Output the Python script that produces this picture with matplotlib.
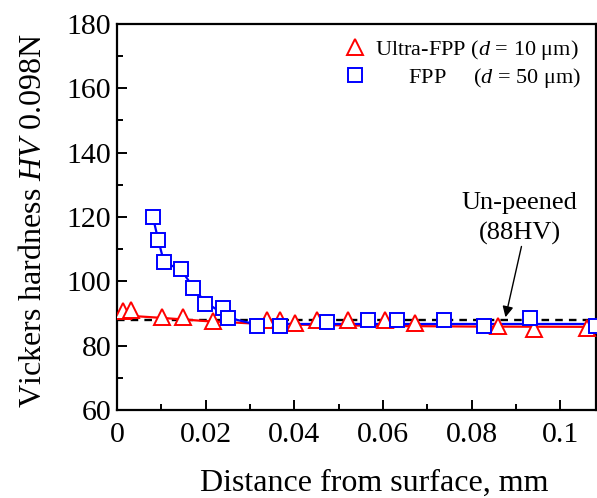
import numpy as np
import matplotlib
matplotlib.use("Agg")
import matplotlib.pyplot as plt
from matplotlib.ticker import MultipleLocator, FixedLocator, FixedFormatter

plt.rcParams['font.family'] = ['Liberation Serif', 'DejaVu Serif']
plt.rcParams['mathtext.fontset'] = 'custom'
plt.rcParams['mathtext.rm'] = 'Liberation Serif'
plt.rcParams['mathtext.it'] = 'Liberation Serif:italic'

# Ultra-FPP (d = 10 um) measured points
ufpp_x = [0.0014, 0.0032, 0.0102, 0.0149, 0.0217, 0.0339, 0.0368, 0.0402,
          0.0452, 0.0521, 0.0605, 0.0673, 0.0858, 0.0941, 0.1059]
ufpp_y = [90.6, 91.0, 89.0, 89.0, 87.6, 88.0, 88.0, 87.0,
          87.8, 87.8, 87.8, 87.1, 86.1, 85.2, 85.5]
# Ultra-FPP trend line
ufpp_fit_x = [0.0, 0.01, 0.02, 0.03, 0.04, 0.06, 0.08, 0.11]
ufpp_fit_y = [89.5, 88.6, 87.6, 86.9, 86.5, 86.1, 85.9, 85.8]

# FPP (d = 50 um) measured points
fpp_x = [0.0081, 0.0093, 0.0106, 0.0145, 0.0172, 0.0199, 0.0238, 0.0251,
         0.0315, 0.0368, 0.0473, 0.0566, 0.0631, 0.0737, 0.0827, 0.0932, 0.1079]
fpp_y = [119.9, 112.8, 105.9, 103.8, 97.8, 93.0, 91.6, 88.5,
         86.2, 86.2, 87.3, 87.8, 87.8, 87.8, 86.1, 88.5, 86.1]
# FPP trend line
fpp_fit_x = [0.0081, 0.0093, 0.0106, 0.0145, 0.0172, 0.0199, 0.0238, 0.027,
             0.030, 0.040, 0.11]
fpp_fit_y = [119.9, 112.8, 105.9, 103.5, 98.0, 93.5, 90.0, 88.0, 87.0, 86.7, 86.7]

# un-peened level
base_hv = 88

xticks = [0, 0.02, 0.04, 0.06, 0.08, 0.1]
xtick_labels = ["0", "0.02", "0.04", "0.06", "0.08", "0.1"]


def draw_graph():
    fig = plt.figure(figsize=(5.97, 4.98), dpi=100)
    ax = fig.add_axes([0.196, 0.177, 0.803, 0.775])

    ax.plot([0, 0.11], [base_hv, base_hv], color='black', lw=1.7,
            dashes=(3.2, 2.6), zorder=1)
    ax.plot(ufpp_fit_x, ufpp_fit_y, color='red', lw=1.6, zorder=2)
    ax.plot(fpp_fit_x, fpp_fit_y, color='blue', lw=1.6, zorder=2)
    ax.plot(ufpp_x, ufpp_y, ls='none', marker='^', ms=11, mew=1.4,
            mec='red', mfc='white', zorder=3,
            label="Ultra-FPP ($d$ = 10 μm)")
    ax.plot(fpp_x, fpp_y, ls='none', marker='s', ms=10, mew=1.4,
            mec='blue', mfc='white', zorder=4,
            label="      FPP     ($d$ = 50 μm)")

    ax.set_xlim(0, 0.1081)
    ax.set_ylim(60, 180)
    ax.xaxis.set_major_locator(FixedLocator(xticks))
    ax.xaxis.set_major_formatter(FixedFormatter(xtick_labels))
    ax.xaxis.set_minor_locator(MultipleLocator(0.01))
    ax.yaxis.set_major_locator(MultipleLocator(20))
    ax.yaxis.set_minor_locator(MultipleLocator(10))
    ax.tick_params(which='both', direction='in', width=1.4, labelsize=21.5)
    ax.tick_params(which='major', length=7)
    ax.tick_params(which='minor', length=4)
    ax.tick_params(axis='x', pad=9)
    ax.tick_params(axis='y', pad=4)
    for s in ax.spines.values():
        s.set_linewidth(1.6)

    ax.set_xlabel("Distance from surface, mm", fontsize=23)
    ax.set_ylabel("Vickers hardness $HV$ 0.098N", fontsize=23)
    ax.xaxis.set_label_coords(0.5375, -0.152)
    ax.yaxis.set_label_coords(-0.145, 0.49)

    ax.annotate("", xy=(0.0876, 88.8), xytext=(0.0912, 110.8),
                arrowprops=dict(arrowstyle='-|>', color='black', lw=1.0,
                                mutation_scale=16, shrinkA=0, shrinkB=0))
    ax.text(0.0908, 119.5, "Un-peened\n(88HV)", fontsize=19,
            ha='center', va='center', linespacing=1.45)

    ax.legend(loc='upper right', frameon=False, fontsize=16,
              handletextpad=0.3, borderaxespad=0.3, labelspacing=0.2,
              handlelength=1.2, bbox_to_anchor=(1.0, 1.005))

    fig.savefig("out.png", dpi=100)


if __name__ == '__main__':
    draw_graph()
